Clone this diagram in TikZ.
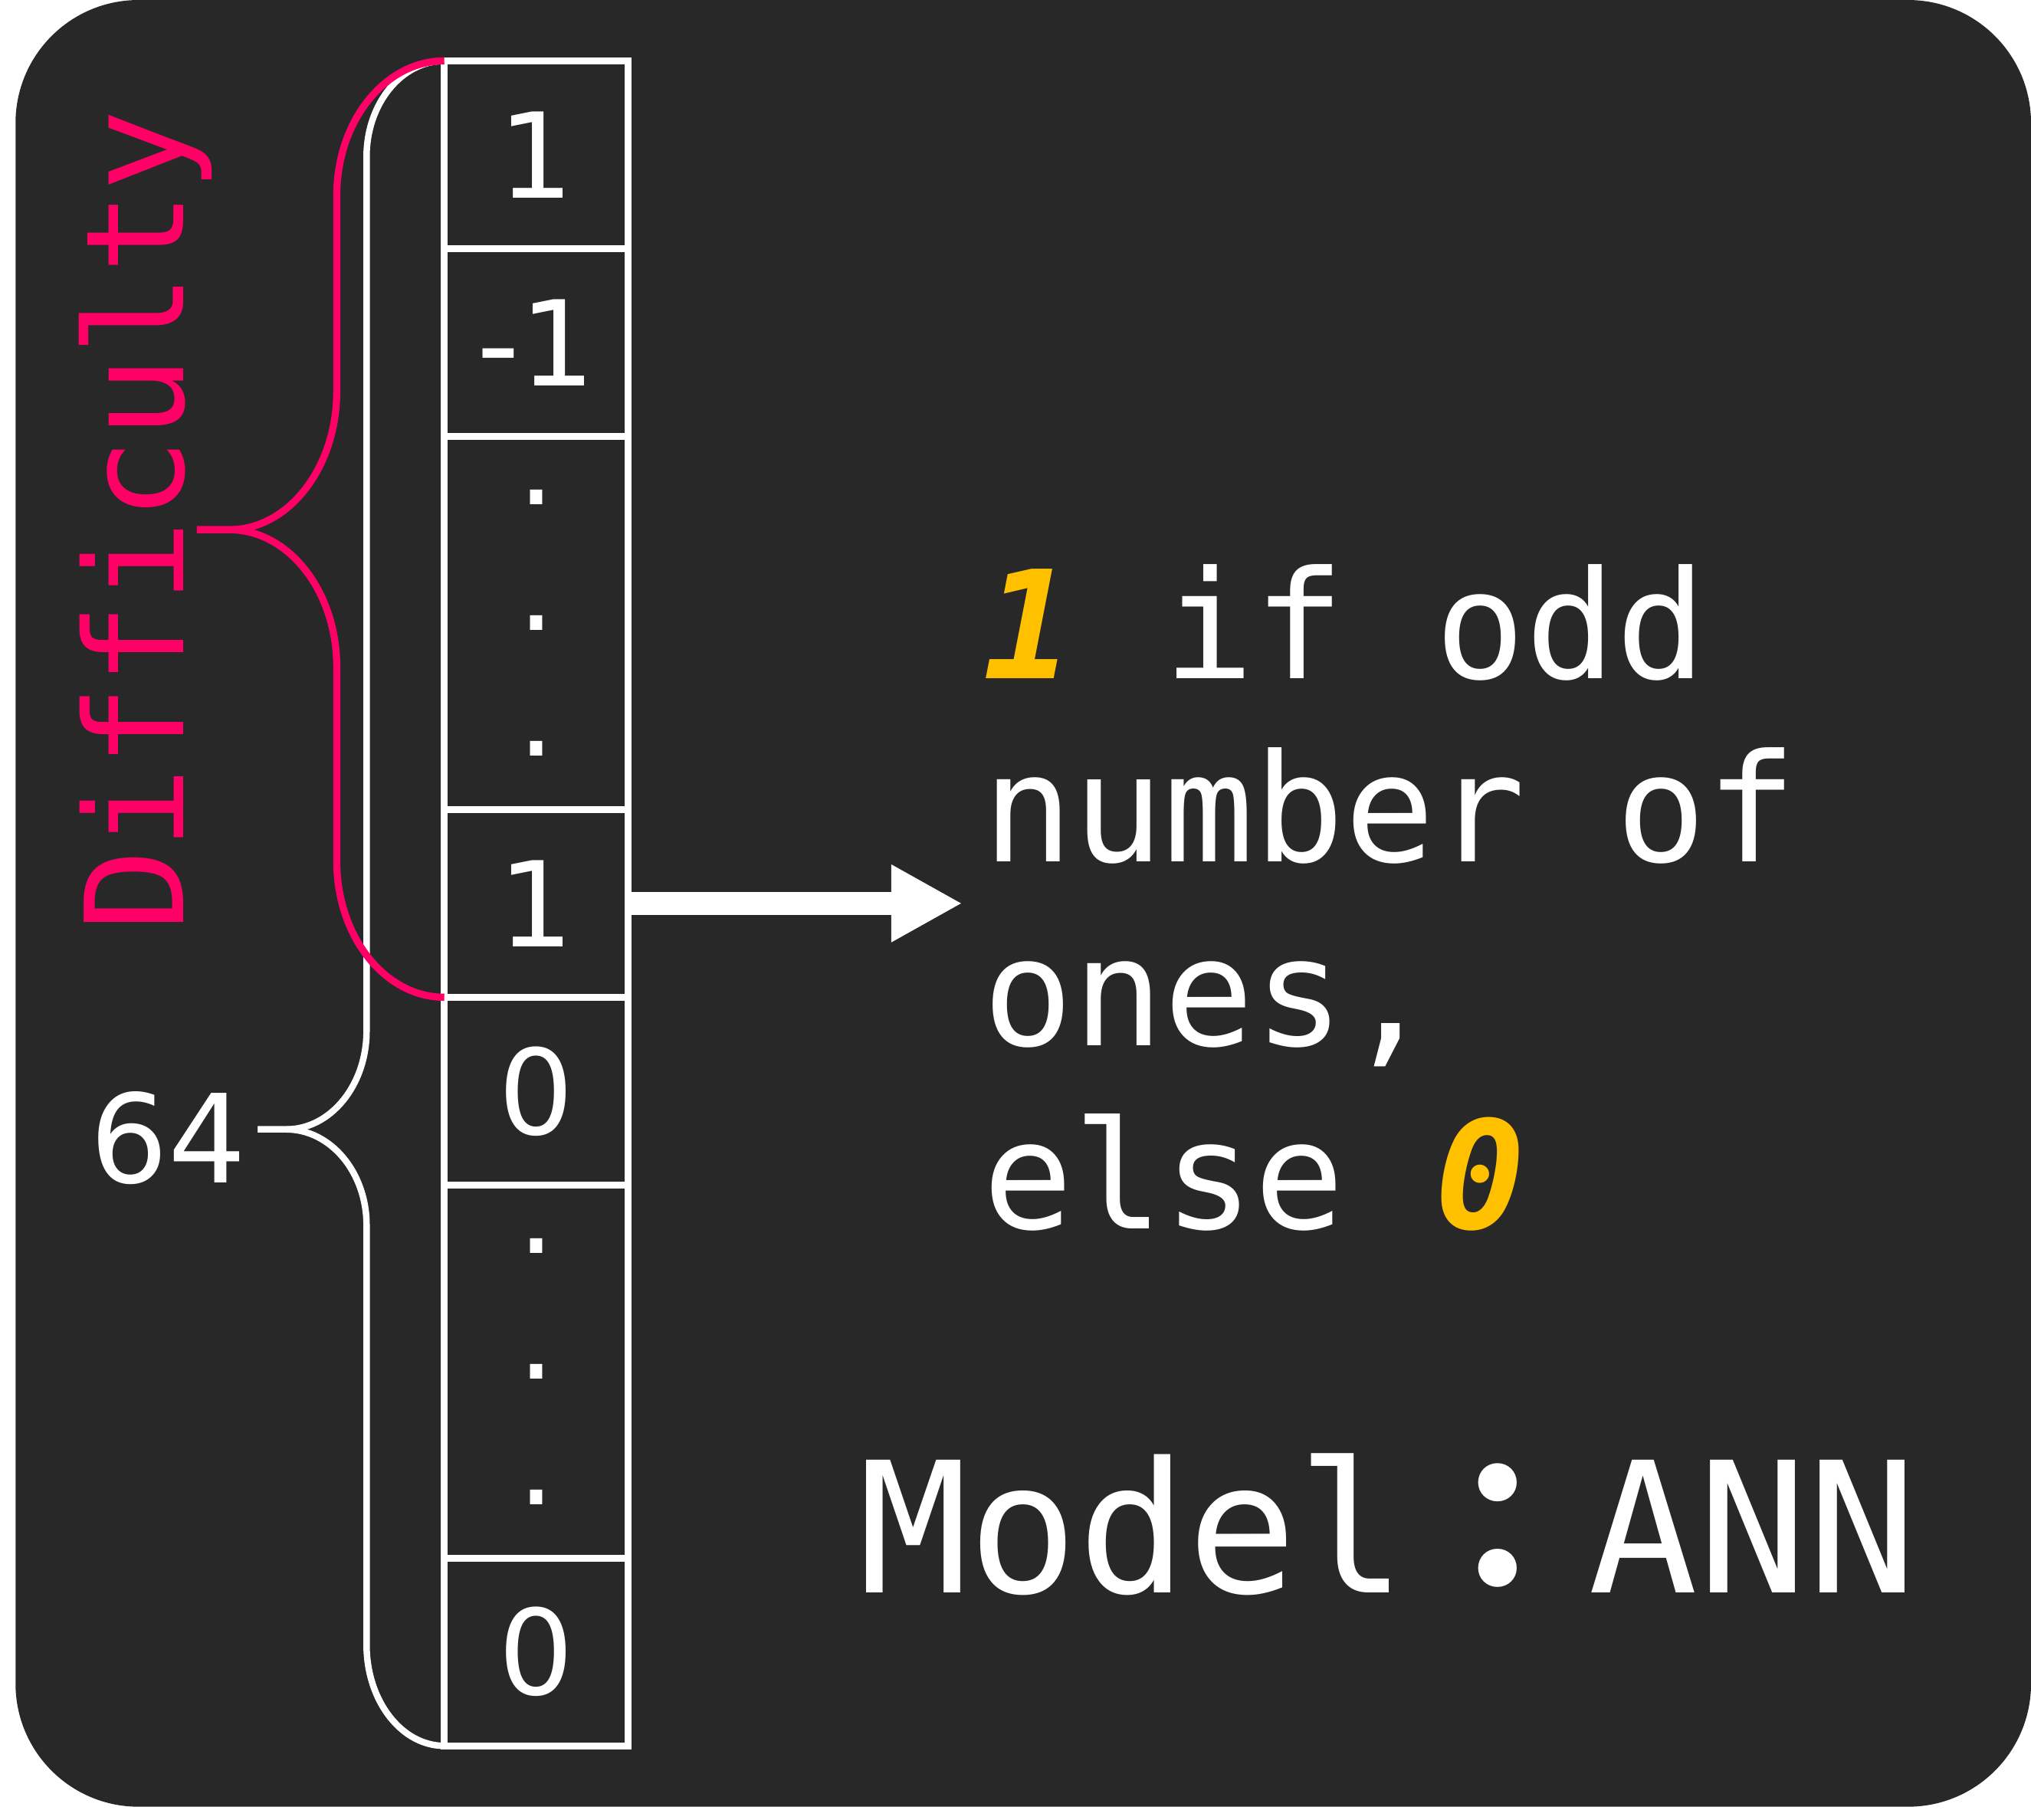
\documentclass[tikz,border=0pt]{standalone}
\usepackage{fontspec}
\setmainfont{DejaVu Sans}
\setmonofont{DejaVu Sans Mono}
\newfontfamily\cjkfont{Noto Sans CJK JP}
\usepackage{tikz}
\usetikzlibrary{arrows.meta,positioning}
\definecolor{bgdark}{RGB}{40,40,40}
\definecolor{diffpink}{RGB}{255,0,102}
\definecolor{hlyellow}{RGB}{255,192,0}
\newcommand\hlnum[1]{{\color{hlyellow}\bfseries\itshape #1}}

\begin{document}
\begin{tikzpicture}[
    cell/.style={draw=white, line width=0.55mm, outer sep=0pt, inner sep=0pt, minimum width=1.42cm, minimum height=1.45cm, text=white, font=\fontsize{26}{28}\selectfont},
    dotcell/.style={cell, minimum height=2.88cm, align=center, font=\fontsize{26}{27.6}\selectfont},
    brace/.style={white, line width=0.5mm},
    pbrace/.style={diffpink, line width=0.55mm},
    rule/.style={text=white, font=\ttfamily\fontsize{33}{40.3}\selectfont, align=left, inner xsep=0.15cm, inner ysep=0pt},
    arrow/.style={-{Triangle[length=0.55cm,width=0.56cm]}, white, line width=0.18cm}
    ]
    %cadre
    \useasboundingbox (0,0) rectangle (15.68,-14.05);
    \fill[bgdark, rounded corners=0.95cm] (0.12,0) rectangle (15.68,-13.95);

    \node[cell] (c1)    at (4.14,-1.195)  {1};
    \node[cell] (c2)    at (4.14,-2.645)  {-1};
    \node[dotcell] (c3) at (4.14,-4.81)   {.\\.\\.};
    \node[cell] (c4)    at (4.14,-6.975)  {1};
    \node[cell] (c5)    at (4.14,-8.425)  {0};
    \node[dotcell] (c6) at (4.14,-10.59)  {.\\.\\.};
    \node[cell] (c7)    at (4.14,-12.755) {0};

    \coordinate (wtip) at (1.99,-8.72);
    \coordinate (ptip) at (1.52,-4.09);
    \node[left=0.08cm of wtip, yshift=-0.07cm, inner sep=0pt, text=white, font=\fontsize{27}{30}\selectfont] (n64) {64};
    \node[rotate=90, anchor=base, inner sep=0pt, text=diffpink, font=\ttfamily\fontsize{30}{36}\selectfont] (diff) at (1.42,-4.02) {Difficulty};

    \node[rule, anchor=west] (rule) at (7.43,-6.93) {\hlnum{1} if odd\\number of\\ones,\\else \hlnum{0}};
    \node[anchor=base west, inner sep=0pt, text=white, font=\ttfamily\fontsize{40}{48}\selectfont] (model) at (6.62,-12.30) {Model{\cjkfont\bfseries ：}ANN};

    \draw[arrow] (c4.east) -- (c4.east -| rule.west);

    % 64
    \draw[brace] (c1.north west) arc[start angle=90, end angle=180, x radius=0.6, y radius=0.74] -- ++(0,-6.75) arc[start angle=0, end angle=-90, x radius=0.62, y radius=0.76] -- (wtip);
    \draw[brace] (c7.south west) arc[start angle=-90, end angle=-180, x radius=0.6, y radius=0.78] -- ++(0,3.24) arc[start angle=0, end angle=90, x radius=0.62, y radius=0.74] -- (wtip);
    % difficulty
    \draw[pbrace] (c1.north west) arc[start angle=90, end angle=180, x radius=0.83, y radius=1.04] -- ++(0,-1.51) arc[start angle=0, end angle=-90, x radius=0.83, y radius=1.07] -- (ptip);
    \draw[pbrace] (c4.south west) arc[start angle=-90, end angle=-180, x radius=0.83, y radius=1.05] -- ++(0,1.50) arc[start angle=0, end angle=90, x radius=0.83, y radius=1.06] -- (ptip);
\end{tikzpicture}
\end{document}
